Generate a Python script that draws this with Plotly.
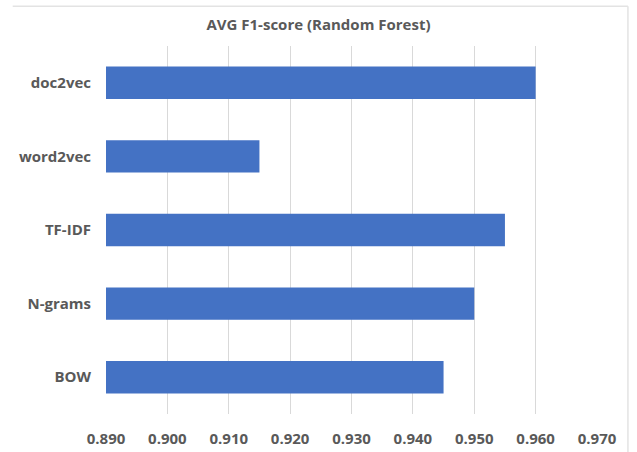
import plotly.graph_objects as go

# Average F1-score per text representation (Random Forest)
methods = ["BOW", "N-grams", "TF-IDF", "word2vec", "doc2vec"]
f1_scores = [0.945, 0.950, 0.955, 0.915, 0.960]
tick_values = [0.890, 0.900, 0.910, 0.920, 0.930, 0.940, 0.950, 0.960, 0.970]
tick_labels = ["0.890", "0.900", "0.910", "0.920", "0.930", "0.940", "0.950", "0.960", "0.970"]

BAR_COLOR = "#4472C4"
TEXT_COLOR = "#595959"
FONT = "Open Sans, Lato, Arial, sans-serif"

fig = go.Figure(
    go.Bar(
        x=[v - 0.890 for v in f1_scores],
        base=0.890,
        y=methods,
        orientation="h",
        width=0.44,
        marker=dict(color=BAR_COLOR, line=dict(width=0)),
        hovertemplate="%{y}: %{customdata:.3f}<extra></extra>",
        customdata=f1_scores,
    )
)

fig.update_layout(
    width=637,
    height=452,
    margin=dict(l=106, r=40, t=46, b=38, autoexpand=False),
    paper_bgcolor="white",
    plot_bgcolor="white",
    showlegend=False,
    title=dict(
        text="<b>AVG F1-score (Random Forest)</b>",
        x=0.5,
        xanchor="center",
        y=0.945,
        yanchor="middle",
        font=dict(family=FONT, size=15, color=TEXT_COLOR),
    ),
    xaxis=dict(
        range=[0.890, 0.970],
        tickvals=tick_values,
        ticktext=[f"<b>{t}</b>" for t in tick_labels],
        showgrid=True,
        gridcolor="#D9D9D9",
        gridwidth=1,
        zeroline=False,
        showline=False,
        ticks="",
        automargin=False,
        ticklabelstandoff=14,
        tickfont=dict(family=FONT, size=15, color=TEXT_COLOR),
        fixedrange=True,
    ),
    yaxis=dict(
        categoryorder="array",
        categoryarray=methods,
        tickvals=methods,
        ticktext=[f"<b>{m}</b>" for m in methods],
        showgrid=False,
        zeroline=False,
        showline=False,
        ticks="",
        automargin=False,
        ticklabelstandoff=14,
        tickfont=dict(family=FONT, size=15, color=TEXT_COLOR),
        fixedrange=True,
    ),
    shapes=[
        # thin chart frame along the top and right edges
        dict(type="line", xref="paper", yref="paper", x0=-0.19, x1=1.063, y0=1.108, y1=1.108,
             line=dict(color="#E3E3E3", width=1.5)),
        dict(type="line", xref="paper", yref="paper", x0=1.063, x1=1.063, y0=1.108, y1=-0.11,
             line=dict(color="#E3E3E3", width=1.5)),
    ],
)

fig.write_html("out.html")
